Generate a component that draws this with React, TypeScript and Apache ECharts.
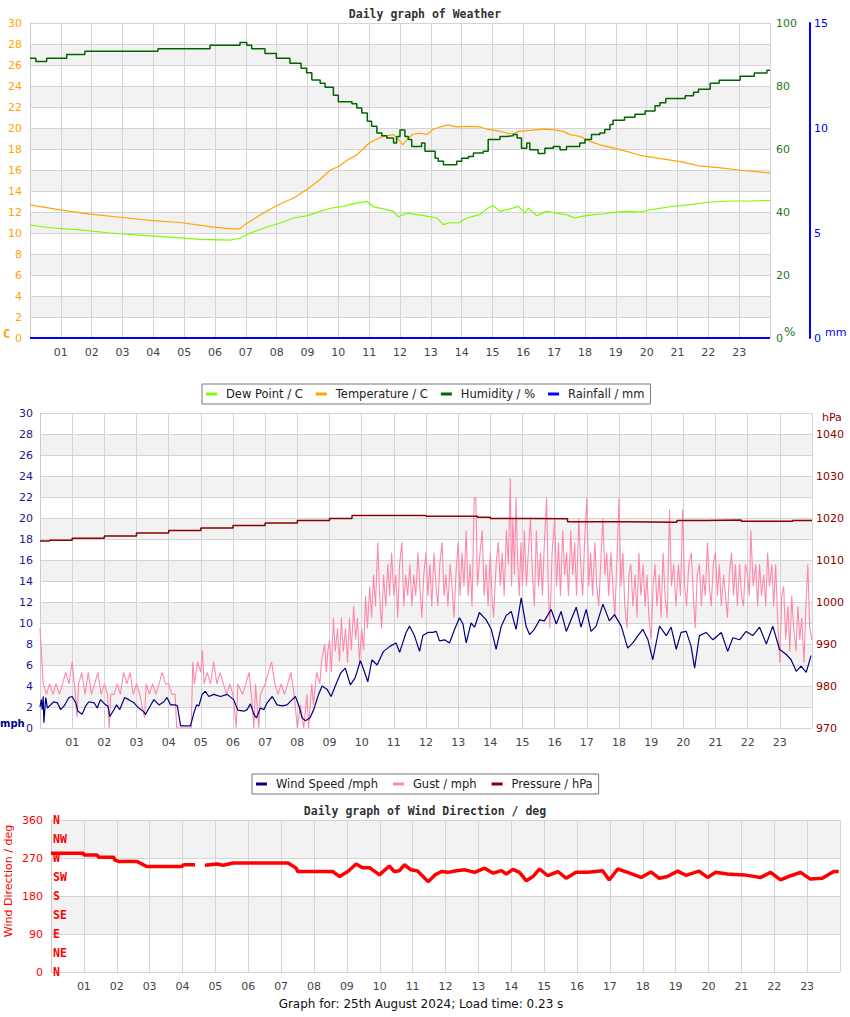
import React, { useEffect, useRef } from 'react';
import * as echarts from 'echarts';

// ---------- DATA (hour of day, value) ----------
const dewPoint: [number, number][] = [
  [0, 10.76], [0.65, 10.5], [1.62, 10.3], [2.59, 10.0], [3.57, 9.8], [4.54, 9.6], [5.51, 9.4], [6.49, 9.33],
  [6.81, 9.5], [7.14, 10.0], [7.62, 10.5], [8.11, 10.95], [8.55, 11.43], [9.0, 11.65], [9.41, 12.06], [9.79, 12.38],
  [10.06, 12.48], [10.38, 12.7], [10.71, 12.92], [10.94, 13.0], [11.14, 12.48], [11.46, 12.29], [11.79, 12.06],
  [11.95, 11.52], [12.22, 11.9], [12.54, 11.75], [12.87, 11.6], [13.19, 11.43], [13.41, 10.8], [13.62, 11.0],
  [13.89, 10.95], [14.16, 11.43], [14.59, 11.75], [14.86, 12.38], [15.03, 12.6], [15.24, 12.06], [15.57, 12.29],
  [15.84, 12.54], [16.05, 11.9], [16.16, 12.38], [16.43, 11.65], [16.75, 12.06], [17.08, 11.9], [17.4, 11.75],
  [17.67, 11.43], [17.94, 11.6], [18.27, 11.75], [18.59, 11.81], [18.91, 11.97], [19.35, 12.06], [19.78, 12.0],
  [20.1, 12.2], [20.76, 12.5], [21.4, 12.7], [22.06, 12.95], [22.7, 13.05], [23.35, 13.05], [24, 13.1],
];

const temperature: [number, number][] = [
  [0, 12.67], [0.97, 12.2], [1.95, 11.8], [2.92, 11.5], [3.89, 11.2], [4.87, 11.0], [5.84, 10.6], [6.49, 10.4],
  [6.81, 10.4], [6.97, 10.8], [7.3, 11.4], [7.62, 12.0], [8.11, 12.76], [8.55, 13.33], [9.0, 14.2], [9.41, 15.1],
  [9.73, 15.97], [10.02, 16.35], [10.27, 16.9], [10.6, 17.46], [10.81, 18.0], [11.0, 18.57], [11.25, 18.95],
  [11.46, 19.2], [11.79, 19.37], [11.95, 18.9], [12.09, 18.4], [12.22, 18.9], [12.43, 19.43], [12.65, 19.5],
  [12.87, 19.37], [13.08, 19.9], [13.3, 20.1], [13.57, 20.29], [13.84, 20.1], [14.16, 20.16], [14.6, 20.1],
  [14.81, 19.9], [15.13, 19.75], [15.46, 19.52], [15.67, 19.43], [15.84, 19.68], [16.21, 19.78], [16.65, 19.9],
  [16.97, 19.84], [17.29, 19.68], [17.51, 19.37], [17.83, 19.2], [18.16, 18.73], [18.48, 18.4], [18.91, 18.1],
  [19.35, 17.78], [19.78, 17.4], [20.4, 17.1], [21.1, 16.8], [21.7, 16.4], [22.4, 16.2], [23.0, 16.0],
  [23.7, 15.8], [24, 15.7],
];

const humidity: [number, number][] = [
  [0, 88.8], [0.19, 87.8], [0.54, 88.8], [1.19, 90.0], [1.78, 91.0], [4.15, 91.8], [5.84, 92.9], [6.81, 93.8],
  [7.03, 92.9], [7.19, 91.8], [7.62, 90.3], [7.99, 88.8], [8.43, 87.2], [8.79, 85.6], [8.97, 84.2], [9.14, 81.9],
  [9.41, 80.9], [9.57, 79.6], [9.84, 77.1], [10.0, 75.0], [10.44, 74.4], [10.6, 73.0], [10.76, 71.4], [10.94, 68.8],
  [11.08, 67.2], [11.25, 65.1], [11.41, 64.2], [11.57, 63.5], [11.79, 61.9], [11.89, 64.0], [12.0, 66.0],
  [12.16, 64.0], [12.27, 63.0], [12.38, 60.8], [12.7, 61.9], [12.81, 59.3], [13.14, 57.1], [13.24, 56.1],
  [13.41, 55.0], [13.84, 56.1], [14.0, 57.1], [14.22, 57.6], [14.38, 58.7], [14.7, 59.3], [14.86, 63.0],
  [15.24, 64.0], [15.46, 64.2], [15.67, 64.6], [15.8, 63.5], [15.94, 60.2], [16.11, 61.9], [16.21, 59.8],
  [16.48, 58.6], [16.7, 60.2], [16.97, 60.8], [17.19, 59.8], [17.4, 60.8], [17.83, 61.9], [18.0, 63.0],
  [18.21, 64.6], [18.48, 65.1], [18.64, 66.2], [18.81, 67.8], [18.91, 69.1], [19.28, 70.1], [19.62, 71.0],
  [19.95, 72.1], [20.27, 73.7], [20.43, 74.7], [20.62, 76.0], [21.25, 76.9], [21.52, 78.0], [21.68, 79.0],
  [22.06, 80.9], [22.35, 81.8], [23.03, 83.1], [23.49, 84.1], [23.9, 85.0], [24, 85.0],
];

const rainfall: [number, number][] = [[0, 0], [24, 0]];

const windSpeed: [number, number][] = [
  [0.0, 2.0], [0.04, 2.7], [0.07, 1.75], [0.1, 3.0], [0.12, 0.5], [0.18, 2.9], [0.23, 1.9], [0.33, 2.2],
  [0.43, 2.5], [0.54, 2.4], [0.64, 1.75], [0.75, 2.1], [0.9, 2.9], [1.0, 3.0], [1.11, 2.4], [1.18, 1.6],
  [1.31, 1.3], [1.42, 2.1], [1.52, 2.5], [1.68, 2.4], [1.78, 1.9], [1.88, 2.7], [2.04, 2.2], [2.11, 2.1],
  [2.17, 1.1], [2.3, 1.75], [2.38, 2.2], [2.48, 1.75], [2.63, 2.9], [2.76, 2.7], [2.92, 2.4], [3.07, 1.9],
  [3.21, 1.6], [3.28, 1.3], [3.39, 1.9], [3.54, 2.7], [3.7, 2.2], [3.85, 2.5], [3.95, 2.9], [4.06, 2.2],
  [4.21, 2.2], [4.27, 2.1], [4.37, 0.2], [4.68, 0.2], [4.78, 1.4], [4.87, 2.2], [4.94, 2.1], [5.04, 3.2],
  [5.14, 3.5], [5.25, 3.0], [5.4, 3.2], [5.61, 3.0], [5.82, 3.2], [6.02, 2.7], [6.15, 1.7], [6.34, 1.6],
  [6.44, 1.75], [6.54, 2.3], [6.65, 1.3], [6.73, 0.95], [6.85, 1.9], [6.96, 1.75], [7.06, 2.4], [7.22, 3.0],
  [7.37, 2.2], [7.53, 2.1], [7.68, 2.2], [7.84, 2.7], [7.94, 3.0], [8.04, 2.2], [8.15, 0.95], [8.25, 0.7],
  [8.39, 0.95], [8.51, 1.75], [8.66, 3.2], [8.77, 4.0], [8.92, 3.7], [9.05, 3.0], [9.18, 4.0], [9.34, 5.2],
  [9.49, 5.7], [9.65, 4.1], [9.8, 4.8], [9.96, 6.4], [10.06, 5.6], [10.19, 4.4], [10.32, 6.5], [10.48, 6.0],
  [10.68, 7.3], [10.89, 7.8], [11.07, 8.1], [11.18, 7.2], [11.38, 9.1], [11.49, 9.7], [11.64, 8.8], [11.8, 7.3],
  [11.9, 8.8], [12.06, 9.1], [12.21, 9.1], [12.32, 9.2], [12.42, 8.3], [12.58, 8.4], [12.73, 8.1], [12.89, 9.4],
  [13.04, 10.5], [13.15, 9.9], [13.25, 8.1], [13.4, 10.0], [13.51, 9.6], [13.66, 11.0], [13.87, 10.3],
  [14.03, 9.4], [14.18, 7.5], [14.34, 9.7], [14.49, 10.7], [14.65, 11.1], [14.8, 9.4], [14.96, 12.4],
  [15.11, 9.7], [15.22, 8.9], [15.37, 9.4], [15.53, 10.3], [15.68, 10.2], [15.89, 11.3], [16.05, 9.9],
  [16.2, 11.1], [16.36, 9.2], [16.51, 10.3], [16.67, 11.5], [16.82, 9.6], [16.98, 11.3], [17.13, 9.2],
  [17.29, 9.7], [17.5, 11.8], [17.7, 10.2], [17.86, 10.8], [18.07, 9.7], [18.27, 7.6], [18.43, 8.1],
  [18.59, 8.8], [18.74, 9.4], [18.9, 8.4], [19.05, 6.5], [19.26, 9.7], [19.47, 8.8], [19.62, 9.6], [19.78, 7.5],
  [19.93, 9.1], [20.09, 9.2], [20.24, 7.8], [20.35, 5.7], [20.5, 8.8], [20.71, 9.1], [20.92, 8.4], [21.18, 9.1],
  [21.38, 7.3], [21.54, 8.6], [21.75, 8.4], [21.95, 9.2], [22.16, 8.8], [22.37, 9.6], [22.58, 8.0], [22.78, 9.7],
  [22.99, 7.5], [23.2, 7.0], [23.35, 6.5], [23.51, 5.4], [23.66, 5.9], [23.82, 5.3], [23.97, 6.9],
];

const gust: [number, number][] = [
  [0.0, 9.5], [0.1, 4.2], [0.2, 3.2], [0.3, 4.2], [0.4, 3.2], [0.5, 4.2], [0.6, 3.2], [0.7, 4.2], [0.8, 5.3],
  [0.9, 4.2], [1.0, 6.3], [1.1, 3.2], [1.15, 1.0], [1.2, 4.2], [1.3, 5.3], [1.4, 3.2], [1.5, 5.3], [1.6, 3.2],
  [1.7, 4.2], [1.8, 5.3], [1.9, 3.2], [2.0, 4.2], [2.1, 3.2], [2.15, 0.0], [2.2, 3.2], [2.3, 3.2], [2.4, 4.2],
  [2.5, 3.2], [2.6, 5.3], [2.7, 4.2], [2.8, 5.3], [2.9, 3.2], [3.0, 4.2], [3.1, 3.2], [3.25, 1.0], [3.3, 4.2],
  [3.4, 3.2], [3.5, 4.2], [3.6, 3.2], [3.7, 4.2], [3.8, 5.3], [3.9, 4.2], [4.0, 4.2], [4.1, 3.2], [4.2, 3.2],
  [4.25, 0.0], [4.35, 0.0], [4.5, 0.0], [4.7, 0.0], [4.75, 6.3], [4.8, 4.2], [4.9, 6.3], [5.0, 5.3], [5.05, 7.4],
  [5.1, 4.2], [5.2, 5.3], [5.3, 4.2], [5.4, 6.3], [5.5, 4.2], [5.6, 5.3], [5.7, 4.2], [5.8, 3.2], [5.9, 4.2],
  [6.0, 3.2], [6.1, 0.0], [6.15, 4.2], [6.3, 3.2], [6.4, 4.2], [6.5, 5.3], [6.6, 2.2], [6.65, 0.0], [6.7, 4.2],
  [6.8, 0.0], [6.85, 3.2], [7.0, 4.2], [7.1, 5.3], [7.2, 6.3], [7.3, 4.2], [7.4, 3.2], [7.5, 4.2], [7.6, 3.2],
  [7.7, 4.2], [7.8, 5.3], [7.9, 3.2], [8.0, 0.0], [8.1, 2.2], [8.2, 0.0], [8.3, 3.2], [8.35, 0.0], [8.45, 4.2],
  [8.5, 2.2], [8.6, 5.3], [8.7, 4.2], [8.75, 6.3], [8.85, 8.0], [8.9, 5.3], [8.95, 7.4],
  [9.0, 8.4], [9.06, 5.3], [9.12, 10.5], [9.18, 7.3], [9.25, 9.5], [9.31, 6.3], [9.37, 10.5], [9.43, 7.3],
  [9.5, 9.5], [9.56, 6.2], [9.62, 10.5], [9.68, 7.4], [9.75, 11.6], [9.81, 8.4], [9.87, 10.5], [9.93, 6.2],
  [10.0, 9.5], [10.06, 7.4], [10.12, 12.6], [10.18, 9.5], [10.25, 13.5], [10.31, 10.5], [10.37, 14.6],
  [10.43, 11.6], [10.5, 17.7], [10.56, 12.6], [10.62, 9.5], [10.68, 14.6], [10.75, 11.6], [10.81, 15.6],
  [10.87, 12.6], [10.93, 16.7], [11.0, 12.6], [11.06, 14.6], [11.12, 10.5], [11.18, 15.6], [11.25, 17.7],
  [11.31, 11.6], [11.37, 14.6], [11.43, 12.6], [11.5, 15.6], [11.56, 11.6], [11.62, 14.6], [11.68, 12.6],
  [11.75, 16.7], [11.81, 13.5], [11.87, 10.5], [11.93, 14.6], [12.0, 16.7], [12.06, 12.6], [12.12, 15.6],
  [12.18, 11.6], [12.25, 16.7], [12.31, 13.5], [12.37, 11.6], [12.43, 15.6], [12.5, 17.7], [12.56, 12.6],
  [12.62, 14.6], [12.68, 11.6], [12.75, 15.6], [12.81, 13.5], [12.87, 10.5], [12.93, 14.6], [13.0, 17.7],
  [13.06, 12.6], [13.12, 16.7], [13.18, 13.5], [13.25, 18.8], [13.31, 12.6], [13.37, 15.6], [13.43, 11.6],
  [13.5, 21.9], [13.55, 21.9], [13.6, 13.5], [13.68, 16.7], [13.75, 18.8], [13.81, 12.6], [13.87, 15.6],
  [13.93, 11.6], [14.0, 16.7], [14.05, 12.6], [14.1, 10.5], [14.18, 15.6], [14.25, 17.7], [14.31, 13.5],
  [14.37, 16.7], [14.43, 12.6], [14.5, 18.8], [14.56, 15.6], [14.62, 23.8], [14.66, 13.5], [14.7, 19.9],
  [14.75, 14.6], [14.8, 21.9], [14.85, 15.6], [14.9, 12.6], [14.95, 17.7], [15.0, 13.5], [15.06, 18.8],
  [15.12, 13.5], [15.18, 16.7], [15.25, 19.9], [15.31, 14.6], [15.37, 11.6], [15.43, 18.8], [15.5, 13.5],
  [15.56, 16.7], [15.62, 12.6], [15.68, 17.7], [15.75, 21.9], [15.8, 13.5], [15.85, 9.5], [15.92, 16.7],
  [16.0, 19.9], [16.06, 13.5], [16.12, 17.7], [16.18, 12.6], [16.25, 18.8], [16.31, 14.6], [16.37, 16.7],
  [16.43, 12.6], [16.5, 18.8], [16.56, 14.6], [16.62, 17.7], [16.68, 12.6], [16.75, 19.9], [16.81, 15.6],
  [16.87, 12.6], [16.93, 17.7], [17.0, 21.9], [17.06, 13.5], [17.12, 16.7], [17.18, 12.6], [17.25, 17.7],
  [17.31, 13.5], [17.37, 11.6], [17.43, 15.6], [17.5, 19.9], [17.56, 14.6], [17.62, 16.7], [17.68, 12.6],
  [17.75, 16.7], [17.81, 13.5], [17.87, 10.5], [17.93, 15.6], [18.0, 21.9], [18.06, 13.5], [18.12, 16.7],
  [18.18, 11.6], [18.25, 9.5], [18.31, 14.6], [18.37, 15.6], [18.43, 11.6], [18.5, 14.6], [18.56, 10.5],
  [18.62, 16.7], [18.68, 12.6], [18.75, 15.6], [18.81, 11.6], [18.87, 14.6], [18.93, 10.5], [19.0, 8.4],
  [19.06, 13.5], [19.12, 15.6], [19.18, 11.6], [19.25, 14.6], [19.31, 10.5], [19.37, 16.7], [19.43, 12.6],
  [19.5, 10.5], [19.57, 20.8], [19.63, 13.5], [19.7, 15.6], [19.77, 11.6], [19.85, 15.6], [19.91, 12.6],
  [19.98, 20.8], [20.04, 13.5], [20.1, 11.6], [20.17, 15.6], [20.25, 16.7], [20.31, 12.6], [20.37, 9.5],
  [20.43, 14.6], [20.5, 15.6], [20.56, 11.6], [20.62, 14.6], [20.68, 12.6], [20.75, 17.7], [20.81, 13.5],
  [20.87, 11.6], [20.93, 15.6], [21.0, 16.7], [21.06, 12.6], [21.12, 15.6], [21.18, 11.6], [21.25, 14.6],
  [21.31, 12.6], [21.37, 10.5], [21.43, 14.6], [21.5, 16.7], [21.56, 12.6], [21.62, 15.6], [21.68, 11.6],
  [21.75, 15.6], [21.81, 12.6], [21.87, 11.6], [21.93, 15.6], [22.0, 14.6], [22.05, 12.6], [22.1, 18.8],
  [22.17, 13.5], [22.25, 15.6], [22.31, 11.6], [22.37, 15.6], [22.43, 12.6], [22.5, 14.6], [22.56, 11.6],
  [22.62, 16.7], [22.68, 13.5], [22.75, 15.6], [22.81, 11.6], [22.87, 15.6], [22.93, 10.5], [23.0, 6.2],
  [23.06, 12.6], [23.12, 13.5], [23.18, 8.4], [23.25, 11.6], [23.31, 7.3], [23.37, 12.6], [23.43, 9.5],
  [23.5, 7.3], [23.56, 11.6], [23.62, 8.4], [23.68, 10.5], [23.75, 6.2], [23.81, 11.6], [23.87, 15.6],
  [23.93, 9.5], [24.0, 8.4],
];

const pressure: [number, number][] = [
  [0, 1014.5], [0.3, 1014.7], [1, 1015.2], [2, 1015.7], [3, 1016.4], [4, 1017.0], [5, 1017.6], [6, 1018.2],
  [7, 1018.8], [8, 1019.4], [9, 1019.9], [9.7, 1020.6], [11.9, 1020.6], [12, 1020.4], [13.6, 1020.2],
  [14, 1019.9], [15.3, 1019.8], [16.4, 1019.1], [18.2, 1019.0], [19.8, 1019.4], [20.7, 1019.5], [21.8, 1019.2],
  [23.4, 1019.4], [24, 1019.4],
];

const windDirection: [number, number | string][] = [
  [0, 281], [0.99, 281], [1.0, 277], [1.4, 277], [1.45, 272], [1.9, 272], [1.95, 265], [2.05, 262], [2.61, 262],
  [2.91, 250], [3.97, 250], [4.05, 254], [4.38, 254], [4.5, '-'], [4.68, 253], [5.04, 256], [5.24, 253],
  [5.54, 258], [7.21, 258], [7.46, 246], [7.5, 238], [8.57, 238], [8.78, 226], [9.03, 238], [9.28, 256],
  [9.48, 247], [9.69, 247], [9.89, 236], [9.99, 230], [10.29, 251], [10.44, 238], [10.6, 240], [10.75, 254],
  [10.95, 242], [11.15, 239], [11.37, 222], [11.47, 214], [11.68, 230], [11.88, 238], [12.08, 236], [12.33, 240],
  [12.59, 242], [12.89, 236], [13.19, 246], [13.45, 234], [13.7, 240], [13.85, 232], [14.05, 243], [14.25, 236],
  [14.46, 216], [14.66, 226], [14.86, 244], [15.11, 228], [15.42, 238], [15.67, 222], [15.97, 236], [16.33, 236],
  [16.78, 240], [16.98, 218], [17.24, 244], [17.54, 236], [17.95, 224], [18.25, 237], [18.5, 222], [18.75, 226],
  [19.06, 239], [19.31, 229], [19.71, 239], [19.97, 224], [20.22, 236], [20.57, 232], [21.08, 230], [21.59, 224],
  [21.89, 236], [22.19, 218], [22.5, 228], [22.8, 236], [23.1, 220], [23.46, 222], [23.81, 238], [23.96, 238],
];

const compassLabels = ['N', 'NE', 'E', 'SE', 'S', 'SW', 'W', 'NW', 'N'];
const legendTop = ['Dew Point / C', 'Temperature / C', 'Humidity / %', 'Rainfall / mm'];
const legendMid = ['Wind Speed /mph', 'Gust / mph', 'Pressure / hPa'];

// ---------- STYLE ----------
const GRID_LINE = '#d4d4d4';
const BANDS = ['#ffffff', '#f2f2f2'];
const SANS = 'DejaVu Sans';
const MONO = 'DejaVu Sans Mono';

const hourLabel = (v: number) => (v <= 0 || v >= 24 ? '' : (v < 10 ? '0' : '') + v);

function hourAxis(gridIndex: number) {
  return {
    type: 'value', gridIndex, min: 0, max: 24, interval: 1,
    axisLine: { show: false }, axisTick: { show: false },
    splitLine: { show: true, lineStyle: { color: GRID_LINE } },
    axisLabel: { color: '#444', fontSize: 11, fontFamily: SANS, margin: 9, formatter: hourLabel },
  };
}

export default function App() {
  const ref = useRef<HTMLDivElement>(null);
  useEffect(() => {
    if (!ref.current) return;
    const chart = echarts.init(ref.current, undefined, { renderer: 'svg' });
    const legendCommon = {
      orient: 'horizontal', icon: 'rect', itemWidth: 11, itemHeight: 3,
      borderColor: '#777', borderWidth: 1, backgroundColor: '#fff', padding: [4, 6, 4, 4],
      textStyle: { color: '#222', fontSize: 11.5, fontFamily: SANS, padding: [0, 0, 0, 4] },
      selectedMode: false,
    };
    chart.setOption({
      animation: false,
      backgroundColor: '#fff',
      title: [
        { text: 'Daily graph of Weather', left: 'center', top: 3, textStyle: { fontFamily: MONO, fontWeight: 'bold', fontSize: 11.5, color: '#333' } },
        { text: 'Daily graph of Wind Direction / deg', left: 'center', top: 800, textStyle: { fontFamily: MONO, fontWeight: 'bold', fontSize: 11.5, color: '#333' } },
      ],
      legend: [
        { ...legendCommon, itemGap: 13, left: 202, top: 384, data: legendTop },
        { ...legendCommon, itemGap: 15, left: 252, top: 774, data: legendMid },
      ],
      grid: [
        { left: 30, top: 23, width: 740, height: 315 },
        { left: 40, top: 413, width: 772, height: 315 },
        { left: 51, top: 820, width: 789, height: 152 },
      ],
      xAxis: [hourAxis(0), hourAxis(1), hourAxis(2)],
      yAxis: [
        {
          type: 'value', gridIndex: 0, position: 'left', min: 0, max: 30, interval: 2,
          axisLine: { show: true, lineStyle: { color: '#ccc' } }, axisTick: { show: false },
          axisLabel: { color: '#FFA500', fontSize: 11, fontFamily: SANS, margin: 8 },
          splitLine: { show: true, lineStyle: { color: GRID_LINE } },
          splitArea: { show: true, areaStyle: { color: BANDS } },
        },
        {
          type: 'value', gridIndex: 0, position: 'right', min: 0, max: 100, interval: 20,
          axisLine: { show: false }, axisTick: { show: false }, splitLine: { show: false },
          axisLabel: { color: '#1f7a1f', fontSize: 11, fontFamily: SANS, margin: 6 },
        },
        {
          type: 'value', gridIndex: 0, position: 'right', offset: 40, min: 0, max: 15, interval: 5,
          axisLine: { show: true, lineStyle: { color: '#0000FF', width: 2 } }, axisTick: { show: false },
          splitLine: { show: false },
          axisLabel: { color: '#0000FF', fontSize: 11, fontFamily: SANS, margin: 4 },
        },
        {
          type: 'value', gridIndex: 1, position: 'left', min: 0, max: 30, interval: 2,
          axisLine: { show: true, lineStyle: { color: '#ccc' } }, axisTick: { show: false },
          axisLabel: { color: '#1a1a8c', fontSize: 11, fontFamily: SANS, margin: 7 },
          splitLine: { show: true, lineStyle: { color: GRID_LINE } },
          splitArea: { show: true, areaStyle: { color: BANDS } },
        },
        {
          type: 'value', gridIndex: 1, position: 'right', min: 970, max: 1045, interval: 10,
          axisLine: { show: false }, axisTick: { show: false }, splitLine: { show: false },
          axisLabel: { color: '#8B0000', fontSize: 11, fontFamily: SANS, margin: 4, formatter: (v: number) => (v > 1040 ? '' : String(v)) },
        },
        {
          type: 'value', gridIndex: 2, position: 'left', min: 0, max: 360, interval: 90,
          axisLine: { show: true, lineStyle: { color: '#ccc' } }, axisTick: { show: false },
          axisLabel: { color: '#FF0000', fontSize: 11, fontFamily: SANS, margin: 8 },
          splitLine: { show: true, lineStyle: { color: GRID_LINE } },
          splitArea: { show: true, areaStyle: { color: BANDS } },
        },
        {
          type: 'value', gridIndex: 2, position: 'left', min: 0, max: 360, interval: 45,
          axisLine: { show: false }, axisTick: { show: false }, splitLine: { show: false },
          axisLabel: {
            inside: true, margin: 2, color: '#FF0000', fontSize: 11.5, fontFamily: MONO, fontWeight: 'bold',
            formatter: (v: number) => compassLabels[Math.round(v / 45)],
          },
        },
      ],
      series: [
        { name: 'Dew Point / C', type: 'line', xAxisIndex: 0, yAxisIndex: 0, data: dewPoint, symbol: 'none', color: '#7CFC00', lineStyle: { width: 1.2 } },
        { name: 'Temperature / C', type: 'line', xAxisIndex: 0, yAxisIndex: 0, data: temperature, symbol: 'none', color: '#FFA500', lineStyle: { width: 1.2 } },
        { name: 'Humidity / %', type: 'line', step: 'end', xAxisIndex: 0, yAxisIndex: 1, data: humidity, symbol: 'none', color: '#006400', lineStyle: { width: 1.5 } },
        { name: 'Rainfall / mm', type: 'line', xAxisIndex: 0, yAxisIndex: 2, data: rainfall, symbol: 'none', color: '#0000FF', lineStyle: { width: 2 } },
        { name: 'Gust / mph', type: 'line', xAxisIndex: 1, yAxisIndex: 3, data: gust, symbol: 'none', color: '#FF88AA', lineStyle: { width: 1.1 } },
        { name: 'Wind Speed /mph', type: 'line', xAxisIndex: 1, yAxisIndex: 3, data: windSpeed, symbol: 'none', color: '#000080', lineStyle: { width: 1.2 } },
        { name: 'Pressure / hPa', type: 'line', step: 'end', xAxisIndex: 1, yAxisIndex: 4, data: pressure, symbol: 'none', color: '#8B0000', lineStyle: { width: 1.5 } },
        { name: 'Wind Direction / deg', type: 'line', xAxisIndex: 2, yAxisIndex: 5, data: windDirection, symbol: 'none', connectNulls: false, color: '#FF0000', lineStyle: { width: 3.5 } },
      ],
      graphic: [
        { type: 'text', x: 3, y: 328, style: { text: 'C', fill: '#FFA500', font: `bold 12px ${MONO}` } },
        { type: 'text', x: 784, y: 326, style: { text: '%', fill: '#1f7a1f', font: `12px ${SANS}` } },
        { type: 'text', x: 825, y: 327, style: { text: 'mm', fill: '#0000FF', font: `11px ${SANS}` } },
        { type: 'text', x: 0, y: 718, style: { text: 'mph', fill: '#00008B', font: `bold 10px ${SANS}` } },
        { type: 'text', x: 822, y: 412, style: { text: 'hPa', fill: '#8B0000', font: `11px ${SANS}` } },
        { type: 'text', x: 8, y: 881, rotation: Math.PI / 2, style: { text: 'Wind Direction / deg', fill: '#FF0000', font: `11px ${SANS}`, align: 'center', verticalAlign: 'middle' } },
        { type: 'text', x: 421, y: 1004, style: { text: 'Graph for: 25th August 2024; Load time: 0.23 s', fill: '#111', font: `12px ${SANS}`, align: 'center', verticalAlign: 'middle' } },
      ],
    });
    return () => chart.dispose();
  }, []);
  return <div ref={ref} style={{ position: 'absolute', left: 0, top: 0, width: 850, height: 1017 }} />;
}
